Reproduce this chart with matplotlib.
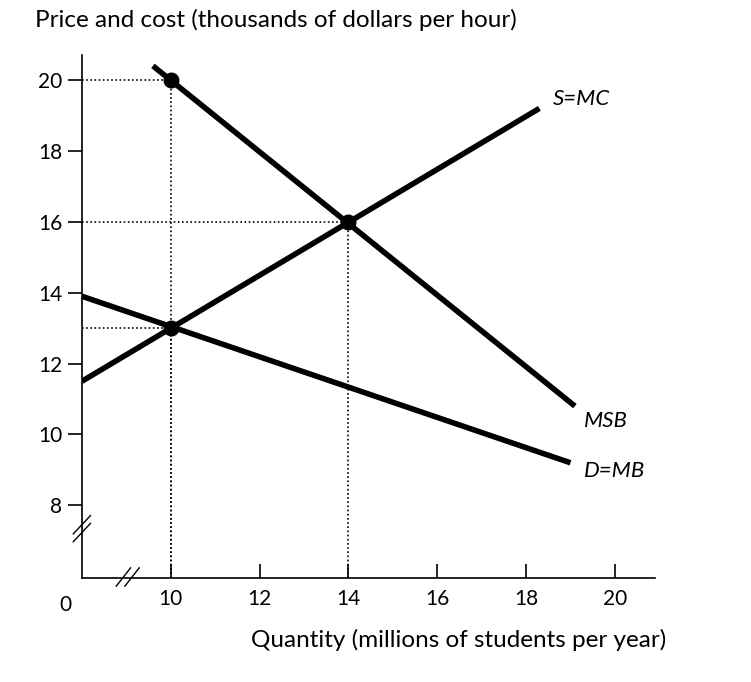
import matplotlib
matplotlib.use("Agg")
import matplotlib.pyplot as plt

plt.rcParams['font.family'] = ['Lato', 'DejaVu Sans']

smc_x = [8.0, 18.3]; smc_y = [11.5, 19.2]
msb_x = [9.6, 19.1]; msb_y = [20.4, 10.8]
mb_x = [8.0, 19.0]; mb_y = [13.9, 9.2]
pts_x = [10, 14, 10]; pts_y = [20, 16, 13]
xticks = [10, 12, 14, 16, 18, 20]
yticks = [8, 10, 12, 14, 16, 18, 20]

fig = plt.figure(figsize=(7.51, 6.82), dpi=100)
ax = fig.add_axes([0.109, 0.152, 0.763, 0.767])
ax.set_xlim(8.0, 20.9); ax.set_ylim(5.94, 20.7)
for s in ['top', 'right']:
    ax.spines[s].set_visible(False)
for s in ['left', 'bottom']:
    ax.spines[s].set_linewidth(1.2)

lw = 4
ax.plot(smc_x, smc_y, color='black', lw=lw, solid_capstyle='butt')
ax.plot(msb_x, msb_y, color='black', lw=lw, solid_capstyle='butt')
ax.plot(mb_x, mb_y, color='black', lw=lw, solid_capstyle='butt')
for x, y in zip(pts_x, pts_y):
    ax.plot([x, x], [5.94, y], ls=(0, (1, 1.5)), color='black', lw=1.2)
    ax.plot([8, x], [y, y], ls=(0, (1, 1.5)), color='black', lw=1.2)
ax.scatter(pts_x, pts_y, s=110, color='black', zorder=5)

ax.set_xticks(xticks); ax.set_yticks(yticks)
ax.tick_params(axis='x', direction='in', length=10, width=1.2, labelsize=15, pad=8)
ax.tick_params(axis='y', direction='out', length=10, width=1.2, labelsize=15, pad=4)

ax.text(18.6, 19.3, 'S=MC', fontsize=16, style='italic')
ax.text(19.3, 10.2, 'MSB', fontsize=16, style='italic')
ax.text(19.3, 8.8, 'D=MB', fontsize=16, style='italic')

# axis breaks
ax.plot([-0.015, 0.015], [0.07, 0.105], transform=ax.transAxes, color='black', lw=1, clip_on=False)
ax.plot([-0.015, 0.015], [0.085, 0.12], transform=ax.transAxes, color='black', lw=1, clip_on=False)
ax.plot([0.06, 0.085], [-0.015, 0.02], transform=ax.transAxes, color='black', lw=1, clip_on=False)
ax.plot([0.075, 0.1], [-0.015, 0.02], transform=ax.transAxes, color='black', lw=1, clip_on=False)
fig.text(65/751, 1 - 605/682, '0', fontsize=15, ha='center', va='center')

fig.text(35/751, 1 - 20/682, 'Price and cost (thousands of dollars per hour)', fontsize=17.5, va='center')
fig.text(459/751, 1 - 640/682, 'Quantity (millions of students per year)', fontsize=17.5, ha='center', va='center')

fig.savefig('out.png', dpi=100)
